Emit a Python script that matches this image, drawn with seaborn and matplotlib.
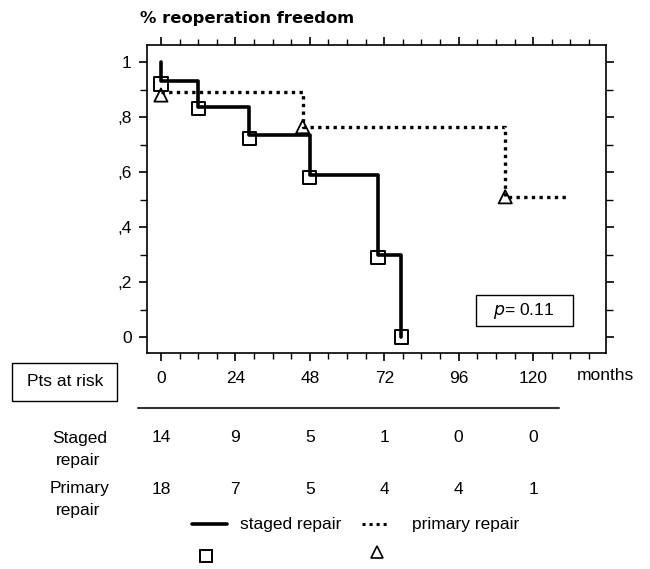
import numpy as np
import pandas as pd
import matplotlib
matplotlib.use("Agg")
import matplotlib.pyplot as plt
import seaborn as sns
from matplotlib.lines import Line2D
from matplotlib.patches import Rectangle
from matplotlib.ticker import MultipleLocator, FixedLocator, FixedFormatter
import matplotlib.transforms as mtransforms

# ---- data ----
staged_t = [0, 0, 12, 28.5, 48, 70, 77.5]
staged_s = [1.0, 0.93, 0.835, 0.735, 0.59, 0.298, 0.0]
staged_mark_t = [0, 12, 28.5, 48, 70, 77.5]
staged_mark_s = [0.92, 0.83, 0.723, 0.58, 0.29, 0.0]

primary_t = [0, 45.7, 111, 130.5]
primary_s = [0.892, 0.765, 0.51, 0.51]
primary_mark_t = [0, 45.7, 111]
primary_mark_s = [0.88, 0.765, 0.51]

risk_times = [0, 24, 48, 72, 96, 120]
risk_staged = [14, 9, 5, 1, 0, 0]
risk_primary = [18, 7, 5, 4, 4, 1]
ytick_vals = [0, 0.2, 0.4, 0.6, 0.8, 1.0]
ytick_labels = ["0", ",2", ",4", ",6", ",8", "1"]

W, H = 650, 569
sns.set_theme(style="white")
plt.rcParams['font.family'] = ['Liberation Sans', 'DejaVu Sans']
plt.rcParams['text.color'] = 'black'
plt.rcParams['xtick.color'] = 'black'
plt.rcParams['ytick.color'] = 'black'
plt.rcParams['xtick.labelcolor'] = 'black'
plt.rcParams['ytick.labelcolor'] = 'black'

fig = plt.figure(figsize=(W / 100, H / 100), dpi=100)
fx = lambda x: x / W
fy = lambda y: 1 - y / H
ax = fig.add_axes([fx(147), fy(353), fx(606) - fx(147), fy(45) - fy(353)])

df_s = pd.DataFrame({"t": staged_t, "s": staged_s})
df_p = pd.DataFrame({"t": primary_t, "s": primary_s})
sns.lineplot(data=df_s, x="t", y="s", ax=ax, color="black", lw=2.6,
             drawstyle="steps-post", sort=False, estimator=None)
sns.lineplot(data=df_p, x="t", y="s", ax=ax, color="black", lw=2.4,
             drawstyle="steps-post", sort=False, estimator=None,
             linestyle=(0, (1, 1.3)), dash_capstyle="butt")
sns.scatterplot(x=staged_mark_t, y=staged_mark_s, ax=ax, marker="s", s=90,
                facecolors="none", edgecolor="black", linewidth=1.4, zorder=5)
sns.scatterplot(x=primary_mark_t, y=primary_mark_s, ax=ax, marker="^", s=90,
                facecolors="none", edgecolor="black", linewidth=1.3, zorder=5)

ax.set_xlim(-4.5, 143.5)
ax.set_ylim(-0.058, 1.062)
ax.set_xlabel("")
ax.set_ylabel("")
for sp in ax.spines.values():
    sp.set_color("black")
    sp.set_linewidth(1.2)

ax.xaxis.set_major_locator(FixedLocator(risk_times))
ax.xaxis.set_minor_locator(MultipleLocator(6))
ax.yaxis.set_major_locator(FixedLocator(ytick_vals))
ax.yaxis.set_major_formatter(FixedFormatter(ytick_labels))
ax.yaxis.set_minor_locator(MultipleLocator(0.1))
ax.tick_params(axis="both", which="both", direction="out", color="black",
               labelcolor="black",
               top=True, bottom=True, left=True, right=True,
               labeltop=False, labelright=False, labelsize=12.5)
ax.tick_params(axis="x", which="major", length=6, width=1.2, pad=7)
ax.tick_params(axis="x", which="minor", length=4, width=1.0)
ax.tick_params(axis="y", which="major", length=6, width=1.2, pad=5)
ax.tick_params(axis="y", which="minor", length=5, width=1.0)

# title
fig.text(fx(140), fy(18), "% reoperation freedom", fontsize=11.8, fontweight="bold",
         family="DejaVu Sans", ha="left", va="center", color="black")

# p value box
fig.patches.append(Rectangle((fx(476), fy(326)), fx(573) - fx(476), fy(295) - fy(326),
                             transform=fig.transFigure, fill=False, ec="black", lw=1.0))
fig.text(fx(524), fy(311), r"$\it{p}$= 0.11", fontsize=12.5, ha="center", va="center")

# months
fig.text(fx(577), fy(375), "months", fontsize=12.5, ha="left", va="center")

# Pts at risk box
fig.patches.append(Rectangle((fx(12), fy(401)), fx(117) - fx(12), fy(363) - fy(401),
                             transform=fig.transFigure, fill=False, ec="black", lw=1.0))
fig.text(fx(65), fy(382), "Pts at risk", fontsize=12.5, ha="center", va="center")
fig.add_artist(Line2D([fx(138), fx(559)], [fy(408), fy(408)], transform=fig.transFigure,
                      color="#333333", lw=1.5))

# risk table
blend = mtransforms.blended_transform_factory(ax.transData, fig.transFigure)
fig.text(fx(80), fy(438), "Staged", fontsize=12.5, ha="center", va="center")
fig.text(fx(78), fy(460), "repair", fontsize=12.5, ha="center", va="center")
fig.text(fx(80), fy(489), "Primary", fontsize=12.5, ha="center", va="center")
fig.text(fx(78), fy(510), "repair", fontsize=12.5, ha="center", va="center")
for t, a, b in zip(risk_times, risk_staged, risk_primary):
    ax.text(t, fy(438), str(a), transform=blend, fontsize=12.5, ha="center", va="center")
    ax.text(t, fy(489), str(b), transform=blend, fontsize=12.5, ha="center", va="center")

# legend
fig.add_artist(Line2D([fx(192), fx(227)], [fy(524), fy(524)], transform=fig.transFigure,
                      color="black", lw=2.6))
fig.text(fx(240), fy(525), "staged repair", fontsize=12.5, ha="left", va="center")
fig.add_artist(Line2D([fx(362), fx(390)], [fy(524), fy(524)], transform=fig.transFigure,
                      color="black", lw=2.2, linestyle=(0, (1, 1.3)), dash_capstyle="butt"))
fig.text(fx(412), fy(525), "primary repair", fontsize=12.5, ha="left", va="center")
fig.add_artist(Line2D([fx(206)], [fy(556)], transform=fig.transFigure, marker="s",
                      markersize=9, mfc="none", mec="black", mew=1.4, linestyle=""))
fig.add_artist(Line2D([fx(377)], [fy(552)], transform=fig.transFigure, marker="^",
                      markersize=8, mfc="none", mec="black", mew=1.2, linestyle=""))

fig.savefig("out.png", dpi=100)
